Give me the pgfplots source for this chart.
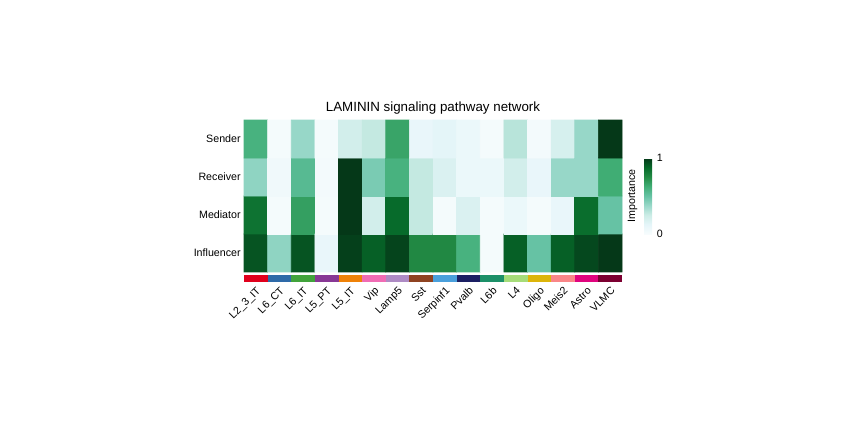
\documentclass[border=0pt]{standalone}
\usepackage{fontspec}
\setmainfont{Liberation Sans}
\usepackage{pgfplots}
\usepackage{pgfplotstable}
\pgfplotsset{compat=1.18}

% BuGn palette (darker end)
\pgfplotsset{colormap={bugn}{rgb255=(247,252,253) rgb255=(229,245,249) rgb255=(204,236,230) rgb255=(153,216,201) rgb255=(102,194,164) rgb255=(65,174,118) rgb255=(35,139,69) rgb255=(6,106,42) rgb255=(5,56,24)}}

\definecolor{cL23IT}{RGB}{224,0,28}
\definecolor{cL6CT}{RGB}{46,106,168}
\definecolor{cL6IT}{RGB}{65,163,59}
\definecolor{cL5PT}{RGB}{136,56,149}
\definecolor{cL5IT}{RGB}{239,130,8}
\definecolor{cVip}{RGB}{240,108,180}
\definecolor{cLamp5}{RGB}{174,139,196}
\definecolor{cSst}{RGB}{143,67,33}
\definecolor{cSerpinf1}{RGB}{74,160,220}
\definecolor{cPvalb}{RGB}{27,31,99}
\definecolor{cL6b}{RGB}{28,144,104}
\definecolor{cL4}{RGB}{166,220,121}
\definecolor{cOligo}{RGB}{221,181,10}
\definecolor{cMeis2}{RGB}{249,134,136}
\definecolor{cAstro}{RGB}{224,4,126}
\definecolor{cVLMC}{RGB}{124,0,49}

% x = cell group, y = role (3 Sender ... 0 Influencer), c = importance
\pgfplotstableread{
x y c
0 0 0.93
0 1 0.84
0 2 0.40
0 3 0.60
1 0 0.40
1 1 0.02
1 2 0.05
1 3 0.02
2 0 0.93
2 1 0.68
2 2 0.55
2 3 0.38
3 0 0.10
3 1 0.02
3 2 0.03
3 3 0.02
4 0 0.98
4 1 1.00
4 2 1.00
4 3 0.22
5 0 0.90
5 1 0.22
5 2 0.45
5 3 0.27
6 0 0.97
6 1 0.87
6 2 0.60
6 3 0.66
7 0 0.76
7 1 0.27
7 2 0.27
7 3 0.10
8 0 0.76
8 1 0.02
8 2 0.18
8 3 0.13
9 0 0.60
9 1 0.18
9 2 0.08
9 3 0.08
10 0 0.02
10 1 0.02
10 2 0.08
10 3 0.02
11 0 0.90
11 1 0.08
11 2 0.22
11 3 0.30
12 0 0.50
12 1 0.02
12 2 0.10
12 3 0.03
13 0 0.90
13 1 0.10
13 2 0.38
13 3 0.20
14 0 0.96
14 1 0.86
14 2 0.38
14 3 0.38
15 0 1.00
15 1 0.50
15 2 0.63
15 3 1.00
}\heat

\newcommand{\cellbar}[2]{\addplot[fill=#2, draw=none] coordinates {(#1-0.5,-0.58) (#1+0.5,-0.58) (#1+0.5,-0.77) (#1-0.5,-0.77)} -- cycle;}

\begin{document}
\begin{tikzpicture}
\useasboundingbox (0,0) rectangle (638.25pt,318.75pt);
\begin{axis}[
    at={(183pt,114.75pt)}, anchor=south west,
    scale only axis,
    width=283.5pt, height=114pt,
    xmin=-0.5, xmax=15.5, ymin=-0.5, ymax=3.5,
    clip=false,
    axis line style={draw=none},
    major tick length=0pt,
    xtick={0,...,15},
    xticklabels={L2\_3\_IT,L6\_CT,L6\_IT,L5\_PT,L5\_IT,Vip,Lamp5,Sst,Serpinf1,Pvalb,L6b,L4,Oligo,Meis2,Astro,VLMC},
    ytick={0,1,2,3},
    yticklabels={Influencer,Mediator,Receiver,Sender},
    tick label style={font=\fontsize{8}{9.5}\selectfont},
    xticklabel shift=9pt,
    x tick label style={rotate=45, anchor=north east, inner sep=1pt},
    y tick label style={xshift=1pt},
    title={LAMININ signaling pathway network},
    title style={font=\fontsize{10}{12}\selectfont, yshift=-5pt},
    colormap name=bugn,
    point meta min=0, point meta max=1,
    colorbar right,
    colorbar style={
        at={(parent axis.east)}, anchor=west, xshift=8pt,
        width=6pt, height=57pt,
        axis line style={draw=none},
        major tick length=0pt,
        ytick={0,1},
        yticklabel pos=right,
        yticklabel style={font=\fontsize{8}{9.5}\selectfont, /pgf/number format/assume math mode=true},
        ylabel={Importance},
        ylabel style={font=\fontsize{8}{9.5}\selectfont, at={(axis description cs:-0.25,0.5)}, anchor=south},
    },
]
\addplot[matrix plot*, mesh/ordering=y varies, mesh/rows=4, mesh/cols=16, point meta=explicit] table[x=x, y=y, meta=c] {\heat};
\cellbar{0}{cL23IT}
\cellbar{1}{cL6CT}
\cellbar{2}{cL6IT}
\cellbar{3}{cL5PT}
\cellbar{4}{cL5IT}
\cellbar{5}{cVip}
\cellbar{6}{cLamp5}
\cellbar{7}{cSst}
\cellbar{8}{cSerpinf1}
\cellbar{9}{cPvalb}
\cellbar{10}{cL6b}
\cellbar{11}{cL4}
\cellbar{12}{cOligo}
\cellbar{13}{cMeis2}
\cellbar{14}{cAstro}
\cellbar{15}{cVLMC}
\end{axis}
\end{tikzpicture}
\end{document}
